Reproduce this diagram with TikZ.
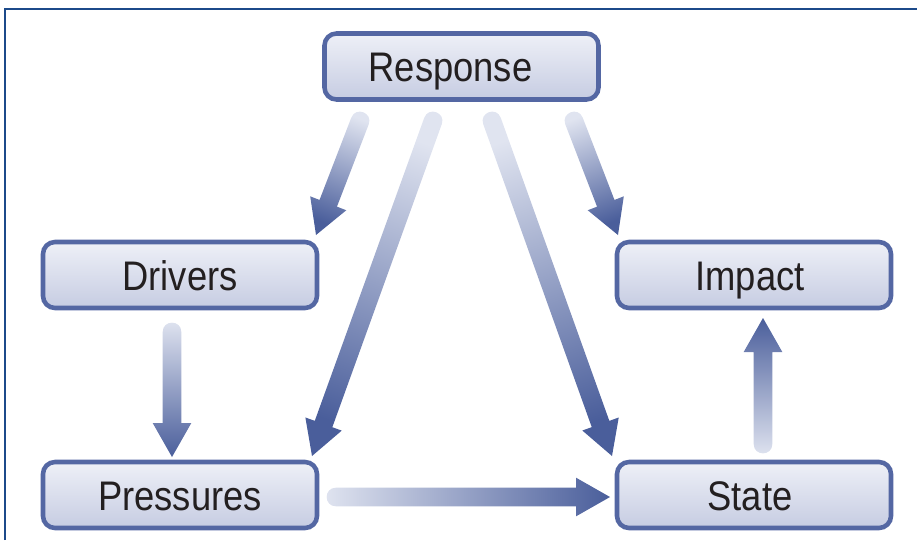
\documentclass[tikz,border=0pt]{standalone}
\usepackage{fontspec}
\setmainfont{Liberation Sans}[FakeStretch=0.88]
\usetikzlibrary{calc}
\definecolor{arrdark}{RGB}{74,94,155}
\definecolor{arrlight}{RGB}{224,228,240}
\definecolor{boxline}{RGB}{84,103,163}
\definecolor{boxtop}{RGB}{238,240,247}
\definecolor{boxbot}{RGB}{198,204,226}
\definecolor{framecol}{RGB}{28,74,138}
\definecolor{txtcol}{RGB}{35,31,32}
\tikzset{every picture/.style={line width=0.75pt},
  stagebox/.style={draw=boxline, line width=3.4pt, rounded corners=9pt, top color=boxtop, bottom color=boxbot,
    minimum width=205.5pt, minimum height=49.5pt, inner sep=0pt, text height=22.5pt, text depth=0pt,
    text=txtcol, font=\fontsize{31}{36}\selectfont}}
% fat shaded arrow from #1 (tail) to #2 (tip)
\newcommand{\fatarrow}[2]{%
  \pgfmathanglebetweenpoints{\pgfpointanchor{#1}{center}}{\pgfpointanchor{#2}{center}}%
  \pgfmathsetmacro\shadeang{-\pgfmathresult-90}%
  \coordinate (hb) at ($(#2)!25.5pt!(#1)$);
  \shade[top color=arrdark, bottom color=arrlight, shading angle=\shadeang]
    ($(#1)!7pt!-90:(#2)$) -- ($(hb)!7pt!-90:(#2)$) -- ($(hb)!14.5pt!-90:(#2)$) -- (#2)
    -- ($(hb)!14.5pt!90:(#2)$) -- ($(hb)!7pt!90:(#2)$) -- ($(#1)!7pt!90:(#2)$)
    .. controls ($(#1)!11.67pt!143.13:(#2)$) and ($(#1)!11.67pt!-143.13:(#2)$) .. ($(#1)!7pt!-90:(#2)$) -- cycle;
}
\begin{document}
\begin{tikzpicture}[x=0.75pt,y=0.75pt,yscale=-1,xscale=1]
\useasboundingbox (0,0) rectangle (917,540);

%Frame
\draw [framecol, line width=1.5pt] (5,540) -- (5,9) -- (917,9);

% Boxes
\node [stagebox] (resp) at (461.5,66.5) {Response\hspace*{16.5pt}};
\node [stagebox] (drv) at (180,275) {Drivers};
\node [stagebox] (imp) at (754,275) {Impact\hspace*{6pt}};
\node [stagebox] (pres) at (180,495) {Pressures};
\node [stagebox] (state) at (754,495) {State\hspace*{6pt}};

% Arrow ends
\coordinate (r1) at (360,121);
\coordinate (r2) at (433,121);
\coordinate (r3) at (492,121);
\coordinate (r4) at (574,121);
\coordinate (d1) at (316,235);
\coordinate (p1) at (312,456);
\coordinate (s1) at (612,456);
\coordinate (i1) at (618,235);
\coordinate (d2) at (172,332);
\coordinate (p2) at (172,457);
\coordinate (p3) at (336,497);
\coordinate (s3) at (610,497);
\coordinate (s4) at (763,444);
\coordinate (i4) at (763,318);

% Arrows
\fatarrow{r1}{d1}
\fatarrow{r2}{p1}
\fatarrow{r3}{s1}
\fatarrow{r4}{i1}
\fatarrow{d2}{p2}
\fatarrow{p3}{s3}
\fatarrow{s4}{i4}

\end{tikzpicture}
\end{document}
